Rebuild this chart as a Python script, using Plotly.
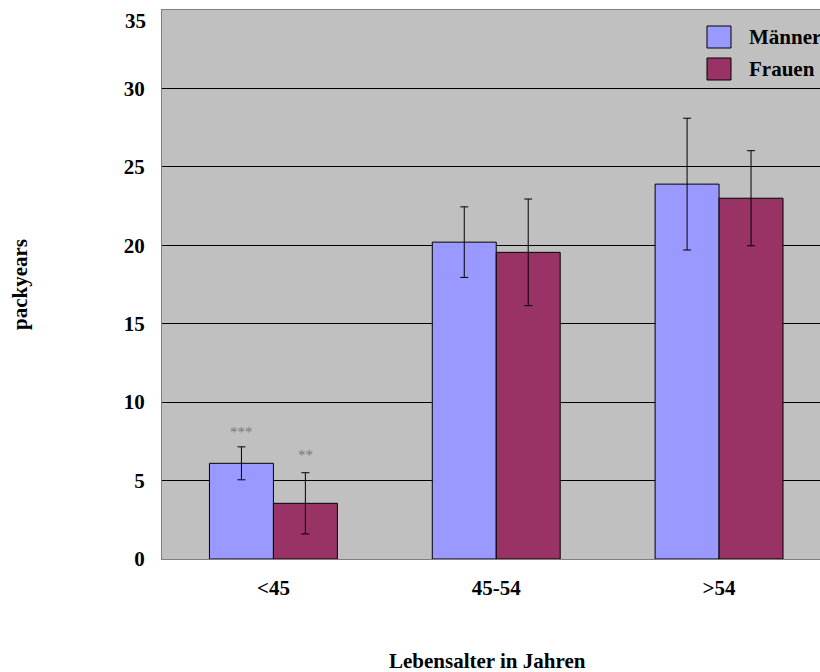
import plotly.graph_objects as go

categories = ["<45", "45-54", ">54"]
maenner = [6.1, 20.2, 23.9]
maenner_err = [1.05, 2.25, 4.2]
frauen = [3.55, 19.55, 23.0]
frauen_err = [1.95, 3.4, 3.03]
sig_maenner = ["***", "", ""]
sig_frauen = ["**", "", ""]
y_ticks = [0, 5, 10, 15, 20, 25, 30, 35]

FONT = "Liberation Serif"
BLUE = "#9999FF"
RED = "#993366"
FS = 21

x_idx = list(range(len(categories)))

fig = go.Figure()
fig.add_trace(go.Bar(
    x=x_idx, y=maenner, name="Männer", marker=dict(color=BLUE, line=dict(color="black", width=1)),
    error_y=dict(type="data", array=maenner_err, color="black", thickness=1, width=4),
    showlegend=False))
fig.add_trace(go.Bar(
    x=x_idx, y=frauen, name="Frauen", marker=dict(color=RED, line=dict(color="black", width=1)),
    error_y=dict(type="data", array=frauen_err, color="black", thickness=1, width=4),
    showlegend=False))

bargap = 0.426
bw = (1 - bargap) / 2

annotations = []
for i in x_idx:
    if sig_maenner[i]:
        annotations.append(dict(x=i - bw / 2, y=maenner[i] + maenner_err[i] + 0.95, xref="x", yref="y",
                                text=sig_maenner[i], showarrow=False, yanchor="middle",
                                font=dict(family=FONT, size=15, color="#777777")))
    if sig_frauen[i]:
        annotations.append(dict(x=i + bw / 2, y=frauen[i] + frauen_err[i] + 1.1, xref="x", yref="y",
                                text=sig_frauen[i], showarrow=False, yanchor="middle",
                                font=dict(family=FONT, size=15, color="#777777")))

L, T, B = 162, 10, 113
W, H = 820, 672
pw, ph = W - L, H - T - B

def px(xp):
    return (xp - L) / pw

def py(yp):
    return (H - B - yp) / ph

# titles
annotations.append(dict(x=px(487), y=py(661), xref="paper", yref="paper", text="<b>Lebensalter in Jahren</b>",
                        showarrow=False, xanchor="center", yanchor="middle",
                        font=dict(family=FONT, size=FS, color="black")))
annotations.append(dict(x=px(20), y=py(285), xref="paper", yref="paper", text="<b>packyears</b>",
                        showarrow=False, xanchor="center", yanchor="middle", textangle=-90,
                        font=dict(family=FONT, size=FS, color="black")))
# top tick label (shifted down into view as in the reference)
annotations.append(dict(x=px(148), y=py(21), xref="paper", yref="paper", text="<b>%d</b>" % y_ticks[-1],
                        showarrow=False, xanchor="right", yanchor="middle",
                        font=dict(family=FONT, size=FS, color="black")))

# legend
shapes = []
legend_items = [("Männer", BLUE, 37), ("Frauen", RED, 69)]
for name, col, yc in legend_items:
    shapes.append(dict(type="rect", xref="paper", yref="paper",
                       x0=px(707), x1=px(731), y0=py(yc + 11), y1=py(yc - 11),
                       fillcolor=col, line=dict(color="black", width=1)))
    annotations.append(dict(x=px(747), y=py(yc), xref="paper", yref="paper", text="<b>" + name + "</b>",
                            showarrow=False, xanchor="left", yanchor="middle",
                            font=dict(family=FONT, size=FS, color="black")))

fig.update_layout(
    width=W, height=H,
    margin=dict(l=L, r=0, t=T, b=B, pad=0),
    paper_bgcolor="white",
    plot_bgcolor="#C0C0C0",
    barmode="group",
    bargap=bargap,
    bargroupgap=0,
    annotations=annotations,
    shapes=shapes,
    xaxis=dict(
        range=[-0.5, 2.453], tickvals=x_idx, ticktext=["<b>" + c + "</b>" for c in categories],
        showgrid=False, zeroline=False, showline=True, linecolor="#808080", linewidth=1, mirror=True,
        ticks="", ticklabelstandoff=10,
        tickfont=dict(family=FONT, size=FS, color="black"),
    ),
    yaxis=dict(
        range=[0, 35], tickvals=y_ticks,
        ticktext=["<b>%d</b>" % v if v != y_ticks[-1] else "" for v in y_ticks],
        showgrid=True, gridcolor="black", gridwidth=1, zeroline=False,
        showline=True, linecolor="#808080", linewidth=1, mirror=True,
        ticks="", ticklabelstandoff=12,
        tickfont=dict(family=FONT, size=FS, color="black"),
    ),
)

fig.write_html("out.html")
